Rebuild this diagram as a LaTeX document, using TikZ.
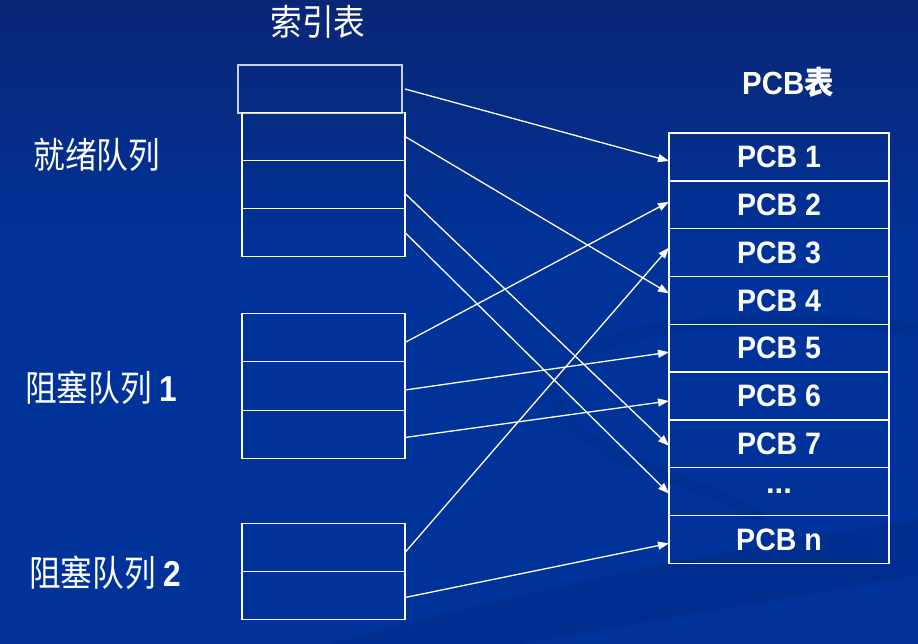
\documentclass[tikz,border=0pt]{standalone}
\usepackage{graphicx}
\usepackage{fontspec}
\setmainfont{Liberation Sans}
\newfontfamily\cjk{Noto Sans CJK SC}
\usetikzlibrary{positioning,arrows.meta}
\definecolor{BgTop}{RGB}{10,38,118}
\definecolor{BgBlue}{RGB}{0,51,153}
\definecolor{BgDark}{RGB}{0,40,130}
\definecolor{EdgeGrey}{RGB}{200,208,232}
\newcommand{\narrow}[2][0.88]{\scalebox{#1}[1]{#2}}

\begin{document}
\begin{tikzpicture}[x=1pt,y=-1pt,
    cell/.style={draw=white,line width=1.3pt,minimum width=163pt,minimum height=48pt,inner sep=0pt,outer sep=0pt},
    pcbcell/.style={cell,minimum width=220pt,minimum height=47.8pt,text=white,font=\fontsize{31}{33}\selectfont\bfseries},
    lbl/.style={text=white,inner sep=0pt,font=\fontsize{36}{38}\selectfont\cjk},
    link/.style={draw=white,line width=1.3pt,-{Triangle[length=11pt,width=8pt]}}]
  \useasboundingbox (0,0) rectangle (918,644);
  \shade[top color=BgTop,bottom color=BgBlue] (0,0) rectangle (918,260);
  \fill[BgBlue] (0,259) rectangle (918,644);
  \fill[BgDark,opacity=0.4] (330,644) .. controls (560,580) and (780,540) .. (918,520) -- (918,575) .. controls (780,600) and (600,630) .. (520,644) -- cycle;
  \draw[BgDark,line width=12pt,opacity=0.3] (918,330) .. controls (700,300) and (520,340) .. (560,410) .. controls (600,470) and (740,490) .. (760,520);

  \node[lbl] (tIdx) at (318,22) {\narrow{索引表}};
  \node[lbl,font=\fontsize{32}{34}\selectfont\bfseries] (tPcb) at (788,82) {\narrow[0.92]{PCB{\cjk 表}}};
  \node[lbl] (qReady) at (97,155) {\narrow{就绪队列}};
  \node[lbl] (qBlockA) at (101,388) {\narrow{阻塞队列 {\rmfamily\bfseries 1}}};
  \node[lbl] (qBlockB) at (105,573) {\narrow{阻塞队列 {\rmfamily\bfseries 2}}};

  \node[cell,draw=EdgeGrey,minimum width=164pt] (top) at (320,89) {};
  \node[cell] (r1) at (323.5,136.5) {};
  \node[cell,below=0pt of r1] (r2) {};
  \node[cell,below=0pt of r2] (r3) {};
  \node[cell,minimum height=48.5pt] (b1) at (323.5,337.5) {};
  \node[cell,minimum height=48.5pt,below=0pt of b1] (b2) {};
  \node[cell,minimum height=48.5pt,below=0pt of b2] (b3) {};
  \node[cell] (c1) at (323.5,547.5) {};
  \node[cell,below=0pt of c1] (c2) {};

  \node[pcbcell] (p1) at (779,157) {\narrow[0.92]{PCB 1}};
  \node[pcbcell,below=0pt of p1] (p2) {\narrow[0.92]{PCB 2}};
  \node[pcbcell,below=0pt of p2] (p3) {\narrow[0.92]{PCB 3}};
  \node[pcbcell,below=0pt of p3] (p4) {\narrow[0.92]{PCB 4}};
  \node[pcbcell,below=0pt of p4] (p5) {\narrow[0.92]{PCB 5}};
  \node[pcbcell,below=0pt of p5] (p6) {\narrow[0.92]{PCB 6}};
  \node[pcbcell,below=0pt of p6] (p7) {\narrow[0.92]{PCB 7}};
  \node[pcbcell,below=0pt of p7] (pdots) {...};
  \node[pcbcell,below=0pt of pdots] (pn) {\narrow[0.92]{PCB n}};

  \draw[link] ([xshift=3pt]top.east) -- ([yshift=-4pt]p1.west);
  \draw[link] (r1.east) -- ([yshift=7pt]p4.west);
  \draw[link] ([yshift=-9pt]r2.east) -- ([yshift=-2pt]p7.west);
  \draw[link] (r3.east) -- ([yshift=-2pt]pdots.west);
  \draw[link] ([yshift=-5pt]b1.east) -- ([yshift=3pt]p2.west);
  \draw[link] ([yshift=-4pt]b2.east) -- ([yshift=-4pt]p5.west);
  \draw[link] ([yshift=-3pt]b3.east) -- ([yshift=-5pt]p6.west);
  \draw[link] ([yshift=-5pt]c1.east) -- ([yshift=5pt]p3.west);
  \draw[link] ([yshift=-2pt]c2.east) -- ([yshift=-4pt]pn.west);
\end{tikzpicture}
\end{document}
